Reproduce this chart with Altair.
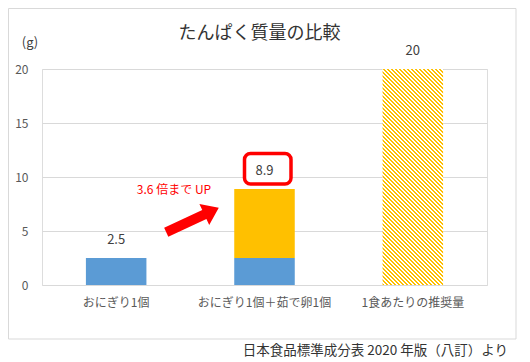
import altair as alt
import pandas as pd

# ---- data ----
categories = ["おにぎり1個", "おにぎり1個＋茹で卵1個", "1食あたりの推奨量"]
rice = [2.5, 2.5, 0.0]
egg = [0.0, 6.4, 0.0]
recommended = [0.0, 0.0, 20.0]
totals = [2.5, 8.9, 20.0]
total_labels = ["2.5", "8.9", "20"]
y_ticks = [0, 5, 10, 15, 20]

title_text = "たんぱく質量の比較"
unit_text = "(g)"
note_text = "3.6 倍まで UP"
source_text = "日本食品標準成分表 2020 年版（八訂）より"

# ---- layout / style ----
FONT = "Noto Sans CJK JP"
W, H = 445, 216
P_IN, P_OUT = 0.592, 0.296
BLUE, YELLOW, RED = "#5B9BD5", "#FFC000", "#FF0000"

rows = []
for c, r, e in zip(categories, rice, egg):
    if r > 0:
        rows.append({"cat": c, "part": "おにぎり", "value": r, "ord": 0})
    if e > 0:
        rows.append({"cat": c, "part": "茹で卵", "value": e, "ord": 1})
stack_df = pd.DataFrame(rows)
rec_df = pd.DataFrame({"cat": categories, "value": recommended})
rec_df = rec_df[rec_df["value"] > 0]
tot_df = pd.DataFrame({"cat": categories, "total": totals, "label": total_labels})
one = pd.DataFrame({"k": [0]})

x_scale = alt.Scale(domain=categories, paddingInner=P_IN, paddingOuter=P_OUT)
y_scale = alt.Scale(domain=[0, 20])

x_enc = alt.X(
    "cat:N", scale=x_scale, sort=categories,
    axis=alt.Axis(title=None, labelAngle=0, labelFont=FONT, labelFontSize=12,
                  labelColor="#595959", labelPadding=12, ticks=False, domain=False),
)
y_axis = alt.Axis(title=None, values=y_ticks, grid=True, gridColor="#d9d9d9",
                  domain=False, ticks=False, labelFont=FONT, labelFontSize=12,
                  labelColor="#595959", labelPadding=14)

# hatch fill as a striped linear gradient (diagonal stripes)
step = W / (len(categories) - P_IN + 2 * P_OUT)
bw = step * (1 - P_IN)
span = bw + H
period = 4.0
n_per = int(span / period) + 1
stops = []
for k in range(n_per):
    a = min(1.0, k * period / span)
    m = min(1.0, (k * period + period * 0.55) / span)
    b = min(1.0, (k + 1) * period / span)
    stops += [alt.GradientStop(offset=a, color=YELLOW), alt.GradientStop(offset=m, color=YELLOW),
              alt.GradientStop(offset=m, color="#ffffff"), alt.GradientStop(offset=b, color="#ffffff")]
s = span / (bw ** 2 + H ** 2)
hatch = alt.LinearGradient(gradient="linear", stops=stops,
                           x1=0, y1=1, x2=s * bw, y2=1 - s * H)

border = alt.Chart(one).mark_rect(fillOpacity=0, stroke="#d9d9d9", strokeWidth=1).encode(
    x=alt.value(-33.5), x2=alt.value(474), y=alt.value(-60.5), y2=alt.value(270))

bars = alt.Chart(stack_df).mark_bar().encode(
    x=x_enc,
    y=alt.Y("value:Q", stack="zero", scale=y_scale, axis=y_axis),
    color=alt.Color("part:N", scale=alt.Scale(domain=["おにぎり", "茹で卵"], range=[BLUE, YELLOW]),
                    legend=None),
    order=alt.Order("ord:Q"),
)

rec_bar = alt.Chart(rec_df).mark_bar(color=hatch).encode(
    x=alt.X("cat:N", sort=categories), y=alt.Y("value:Q"))

box = alt.Chart(one).mark_rect(fill="white", stroke=RED, strokeWidth=3.5, cornerRadius=6).encode(
    x=alt.value(202.5), x2=alt.value(249), y=alt.value(84.5), y2=alt.value(115))

labels = alt.Chart(tot_df).mark_text(font=FONT, fontSize=13, color="#404040", baseline="middle", dy=-18).encode(
    x=alt.X("cat:N", sort=categories), y=alt.Y("total:Q"), text="label:N")

arrow = alt.Chart(one).mark_point(
    shape="M-1,-0.17L0.45,-0.17L0.45,-0.4L1,0L0.45,0.4L0.45,0.17L-1,0.17Z",
    filled=True, fill=RED, opacity=1, size=3364, angle=335,
).encode(x=alt.value(150.5), y=alt.value(151))

note = alt.Chart(one).mark_text(text=note_text, font=FONT, fontSize=12, color=RED,
                                baseline="middle", align="center").encode(
    x=alt.value(132), y=alt.value(121))

title = alt.Chart(one).mark_text(text=title_text, font=FONT, fontSize=18, color="#333333",
                                 baseline="middle", align="center").encode(
    x=alt.value(217.5), y=alt.value(-35))

unit = alt.Chart(one).mark_text(text=unit_text, font=FONT, fontSize=13, color="#404040",
                                baseline="middle", align="center").encode(
    x=alt.value(-12), y=alt.value(-26))

source = alt.Chart(one).mark_text(text=source_text, font=FONT, fontSize=13.5, color="#333333",
                                  baseline="middle", align="right").encode(
    x=alt.value(466), y=alt.value(282))

chart = alt.layer(border, bars, rec_bar, box, labels, arrow, note, title, unit, source).properties(
    width=W, height=H,
    padding={"left": 34, "top": 61, "right": 35, "bottom": 73},
    autosize=alt.AutoSizeParams(type="none"),
).configure_view(stroke=None).configure(background="white")

chart.save("out.html", embed_options={"renderer": "svg", "actions": False})
